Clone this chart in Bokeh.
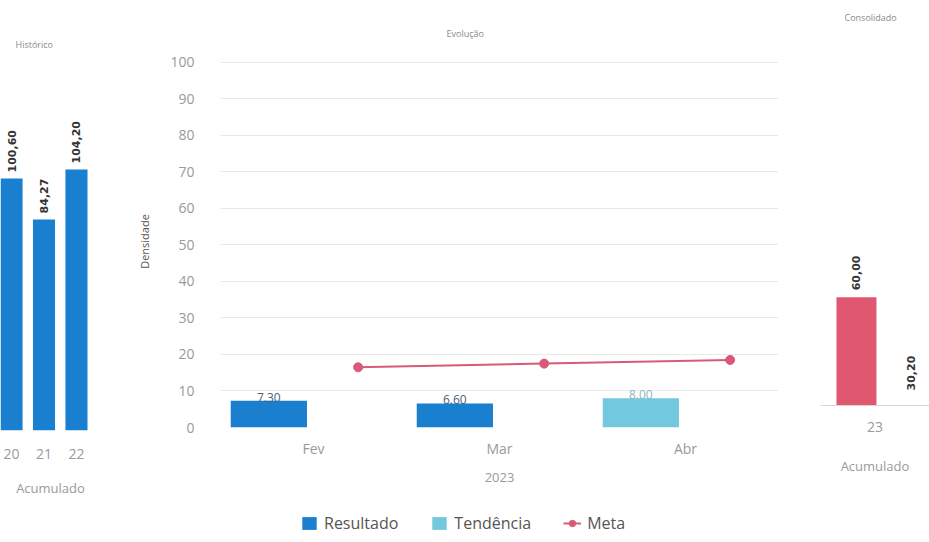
import math
from bokeh.plotting import figure
from bokeh.layouts import row, column
from bokeh.models import (ColumnDataSource, Range1d, FactorRange, FixedTicker,
                          Legend, LegendItem)
from bokeh.transform import dodge
from bokeh.core.properties import value
from bokeh.embed import file_html
from bokeh.resources import INLINE

# ---------------- data ----------------
hist_years = ["20", "21", "22"]
hist_values = [100.60, 84.27, 104.20]

months = ["Fev", "Mar", "Abr"]
resultado = [7.30, 6.60, None]
tendencia = [None, None, 8.00]
meta = [16.5, 17.5, 18.5]
y_ticks = [0, 10, 20, 30, 40, 50, 60, 70, 80, 90, 100]

cons_year = ["23"]
cons_resultado = [60.00]
cons_meta = [30.20]

legend_labels = ["Resultado", "Tendência", "Meta"]

# ---------------- styles ----------------
BLUE = "#1b7fd0"
CYAN = "#72c9dd"
META = "#d95a78"
RED = "#e0586f"
GRAY = "#9a9a9a"
FONT = "Open Sans"
PANEL_H = 508


def base_fig(**kw):
    p = figure(output_backend="svg", toolbar_location=None, frame_align=False, **kw)
    p.outline_line_color = None
    p.background_fill_color = "white"
    p.border_fill_color = "white"
    return p


def style_title(p, text, offset, standoff):
    p.title.text = text
    p.title.text_font = FONT
    p.title.text_font_size = "9px"
    p.title.text_font_style = "normal"
    p.title.text_color = "#8a8a8a"
    p.title.align = "left"
    p.title.offset = offset
    p.title.standoff = standoff


def style_xaxis(ax, label, lab_standoff, ax_standoff, line_color=None):
    ax.axis_line_color = line_color
    ax.major_tick_line_color = None
    ax.minor_tick_line_color = None
    ax.major_label_text_font = FONT
    ax.major_label_text_font_size = "14px"
    ax.major_label_text_color = GRAY
    ax.major_label_standoff = lab_standoff
    ax.axis_label = label
    ax.axis_label_text_font = FONT
    ax.axis_label_text_font_size = "13px"
    ax.axis_label_text_font_style = "normal"
    ax.axis_label_text_color = GRAY
    ax.axis_label_standoff = ax_standoff


def fmt_comma(v):
    return f"{v:.2f}".replace(".", ",")


# ---------------- Histórico ----------------
pA = base_fig(width=100, height=PANEL_H, x_range=Range1d(19.66, 22.74),
              y_range=Range1d(0, 147.7), min_border_left=0, min_border_right=0,
              min_border_top=60, min_border_bottom=PANEL_H - 430)
pA.grid.visible = False
pA.yaxis.visible = False
srcA = ColumnDataSource(dict(x=[int(y) for y in hist_years], top=hist_values,
                             label=[fmt_comma(v) for v in hist_values]))
pA.vbar(x="x", top="top", width=0.68, fill_color=BLUE, line_color=None, source=srcA)
pA.text(x="x", y="top", text="label", angle=math.pi / 2, text_align="left",
        text_baseline="middle", y_offset=-6, text_font_size="11px",
        text_font_style="bold", text_color="#333333",
        text_font=value("DejaVu Sans"), source=srcA)
pA.xaxis.ticker = FixedTicker(ticks=[int(y) for y in hist_years])
style_xaxis(pA.xaxis, "Acumulado", 12, 17)
style_title(pA, "Histórico", 15, 19)

# ---------------- Evolução ----------------
pB = base_fig(width=695, height=PANEL_H, x_range=FactorRange(*months),
              y_range=Range1d(0, 101.9), min_border_left=120, min_border_right=17,
              min_border_top=55, min_border_bottom=PANEL_H - 427)
pB.xgrid.visible = False
pB.ygrid.ticker = FixedTicker(ticks=y_ticks)
pB.ygrid.grid_line_color = "#e9e9e9"
pB.yaxis.ticker = FixedTicker(ticks=y_ticks)
pB.yaxis.axis_line_color = None
pB.yaxis.major_tick_line_color = None
pB.yaxis.minor_tick_line_color = None
pB.yaxis.major_label_text_font = FONT
pB.yaxis.major_label_text_font_size = "14px"
pB.yaxis.major_label_text_color = GRAY
pB.yaxis.major_label_standoff = 20
pB.yaxis.axis_label = "Densidade"
pB.yaxis.axis_label_text_font = FONT
pB.yaxis.axis_label_text_font_size = "11px"
pB.yaxis.axis_label_text_font_style = "normal"
pB.yaxis.axis_label_text_color = "#555555"
pB.yaxis.axis_label_standoff = 15
style_xaxis(pB.xaxis, "2023", 5, 12)
style_title(pB, "Evolução", 226, 32)

res_m = [m for m, v in zip(months, resultado) if v is not None]
res_v = [v for v in resultado if v is not None]
srcR = ColumnDataSource(dict(m=res_m, v=res_v, label=[f"{v:.2f}" for v in res_v]))
ten_m = [m for m, v in zip(months, tendencia) if v is not None]
ten_v = [v for v in tendencia if v is not None]
srcT = ColumnDataSource(dict(m=ten_m, v=ten_v, label=[f"{v:.2f}" for v in ten_v]))
srcM = ColumnDataSource(dict(m=months, v=meta))

pB.vbar(x=dodge("m", -0.24, range=pB.x_range), top="v", width=0.41,
        fill_color=BLUE, line_color=None, source=srcR)
pB.vbar(x=dodge("m", -0.24, range=pB.x_range), top="v", width=0.41,
        fill_color=CYAN, line_color=None, source=srcT)
pB.text(x=dodge("m", -0.24, range=pB.x_range), y="v", text="label",
        text_align="center", text_baseline="bottom", y_offset=1,
        text_font_size="12px", text_color="#4d5d78", text_font=value(FONT),
        source=srcR)
pB.text(x=dodge("m", -0.24, range=pB.x_range), y="v", text="label",
        text_align="center", text_baseline="bottom", y_offset=1,
        text_font_size="12px", text_color="#8fb3c2", text_font=value(FONT),
        source=srcT)
pB.line(x=dodge("m", 0.24, range=pB.x_range), y="v", line_color=META,
        line_width=2, source=srcM)
pB.scatter(x=dodge("m", 0.24, range=pB.x_range), y="v", size=9,
           fill_color=META, line_color=META, source=srcM)

# ---------------- Consolidado ----------------
pC = base_fig(width=134, height=PANEL_H, x_range=FactorRange(*cons_year),
              y_range=Range1d(0, 208), min_border_left=25, min_border_right=0,
              min_border_top=30, min_border_bottom=PANEL_H - 405)
pC.grid.visible = False
pC.yaxis.visible = False
srcC1 = ColumnDataSource(dict(x=cons_year, v=cons_resultado,
                              label=[fmt_comma(v) for v in cons_resultado]))
srcC2 = ColumnDataSource(dict(x=cons_year, v=cons_meta,
                              label=[fmt_comma(v) for v in cons_meta],
                              base=[0 for _ in cons_meta]))
pC.vbar(x=dodge("x", -0.17, range=pC.x_range), top="v", width=0.367,
        fill_color=RED, line_color=None, source=srcC1)
pC.vbar(x=dodge("x", 0.326, range=pC.x_range), top="v", width=0.275,
        fill_color="white", line_color=None, source=srcC2)
pC.text(x=dodge("x", -0.17, range=pC.x_range), y="v", text="label",
        angle=math.pi / 2, text_align="left", text_baseline="middle",
        y_offset=-7, text_font_size="11px", text_font_style="bold",
        text_color="#333333", text_font=value("DejaVu Sans"), source=srcC1)
pC.text(x=dodge("x", 0.326, range=pC.x_range), y="base", text="label",
        angle=math.pi / 2, text_align="left", text_baseline="middle",
        y_offset=-15, text_font_size="11px", text_font_style="bold",
        text_color="#333333", text_font=value("DejaVu Sans"), source=srcC2)
style_xaxis(pC.xaxis, "Acumulado", 10, 22, line_color="#d6d6d6")
style_title(pC, "Consolidado", 24, 14)

# ---------------- legend strip ----------------
pL = base_fig(width=929, height=30, x_range=Range1d(0, 1), y_range=Range1d(0, 1),
              min_border=0)
pL.axis.visible = False
pL.grid.visible = False
# legend-only renderers (kept outside the visible range)
lr1 = pL.vbar(x=[-10], top=[0], width=1, fill_color=BLUE, line_color=None)
lr2 = pL.vbar(x=[-10], top=[0], width=1, fill_color=CYAN, line_color=None)
lr3 = pL.line(x=[-10, -9], y=[0, 0], line_color=META, line_width=2)
lr4 = pL.scatter(x=[-10], y=[0], size=7, fill_color=META, line_color=META)
legend = Legend(items=[LegendItem(label=legend_labels[0], renderers=[lr1]),
                       LegendItem(label=legend_labels[1], renderers=[lr2]),
                       LegendItem(label=legend_labels[2], renderers=[lr3, lr4])],
                orientation="horizontal", location=(300, 4),
                border_line_color=None, background_fill_alpha=0,
                label_text_font=FONT, label_text_font_size="16px",
                label_text_color="#555555", glyph_width=18, glyph_height=16,
                spacing=32, padding=2, margin=0, label_standoff=6)
pL.add_layout(legend)

layout = column(row(pA, pB, pC, spacing=0), pL, spacing=0)
open("out.html", "w").write(file_html(layout, INLINE))
